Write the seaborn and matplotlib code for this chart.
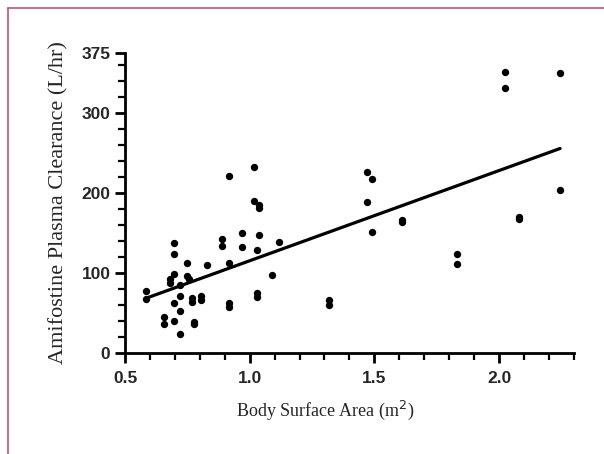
import numpy as np
import pandas as pd
import seaborn as sns
import matplotlib
matplotlib.use('Agg')
import matplotlib.pyplot as plt
from matplotlib.lines import Line2D
from matplotlib.ticker import MultipleLocator, FixedLocator

sns.set_style('ticks')

# body surface area (m2) and amifostine clearance (L/hr)
bsa = [0.586, 0.586, 0.657, 0.657, 0.681, 0.681,
       0.695, 0.695, 0.695, 0.695, 0.695,
       0.72, 0.72, 0.72, 0.72, 0.749, 0.749, 0.758,
       0.767, 0.767, 0.778, 0.778, 0.806, 0.806, 0.828,
       0.887, 0.887, 0.918, 0.918, 0.918, 0.918, 0.969, 0.969,
       1.017, 1.017, 1.028, 1.028, 1.028, 1.037, 1.037, 1.037,
       1.089, 1.118, 1.32, 1.32, 1.47, 1.47, 1.49, 1.49,
       1.611, 1.611, 1.832, 1.832, 2.023, 2.023, 2.082, 2.082,
       2.245, 2.245]
clearance = [77, 67, 45, 36, 93, 87,
             138, 124, 99, 62, 40,
             85, 71, 52, 24, 112, 96, 93,
             69, 64, 39, 36, 71, 66, 110,
             143, 134, 221, 112, 63, 57, 150, 132,
             233, 190, 129, 75, 70, 185, 181, 147,
             98, 139, 66, 60, 226, 189, 217, 151,
             166, 164, 124, 111, 352, 332, 170, 167,
             350, 204]

x_major = [0.5, 1.0, 1.5, 2.0]
x_labels = ['0.5', '1.0', '1.5', '2.0']
y_major = [0, 100, 200, 300, 375]

df = pd.DataFrame({'bsa': bsa, 'cl': clearance})

fig = plt.figure(figsize=(6.04, 4.54), dpi=100)
ax = fig.add_axes([0.207, 0.2225, 0.743, 0.6605])

sns.regplot(x='bsa', y='cl', data=df, ax=ax, ci=None, color='black',
            scatter_kws={'s': 28, 'linewidths': 0, 'alpha': 1},
            line_kws={'linewidth': 2.3})

ax.set_xlim(0.5, 2.3)
ax.set_ylim(0, 375)
ax.xaxis.set_major_locator(FixedLocator(x_major))
ax.xaxis.set_minor_locator(MultipleLocator(0.1))
ax.yaxis.set_major_locator(FixedLocator(y_major))
ax.yaxis.set_minor_locator(MultipleLocator(20))
ax.set_xticklabels(x_labels)

for side in ['top', 'right']:
    ax.spines[side].set_visible(False)
for side in ['left', 'bottom']:
    ax.spines[side].set_linewidth(2)
    ax.spines[side].set_color('black')

ax.tick_params(which='major', length=7, width=2, direction='out', color='black')
ax.tick_params(which='minor', length=5, width=1.6, direction='out', color='black')
ax.tick_params(axis='x', which='major', pad=6)
for lab in ax.get_xticklabels() + ax.get_yticklabels():
    lab.set_family('Liberation Sans')
    lab.set_fontweight('bold')
    lab.set_fontsize(12.5)

ax.set_xlabel('Body Surface Area (m$^2$)', family='Liberation Serif', fontsize=13)
ax.xaxis.set_label_coords(0.446, -0.153)
ax.set_ylabel('Amifostine Plasma Clearance (L/hr)', family='Liberation Serif',
              fontsize=16, labelpad=9)

# pink frame on top and left
fig.add_artist(Line2D([8 / 604, 8 / 604], [0, 1 - 8 / 454], transform=fig.transFigure,
                      color='#c8507a', linewidth=1.2))
fig.add_artist(Line2D([8 / 604, 1], [1 - 8 / 454, 1 - 8 / 454], transform=fig.transFigure,
                      color='#c8507a', linewidth=1.2))

fig.savefig('out.png', dpi=100)
